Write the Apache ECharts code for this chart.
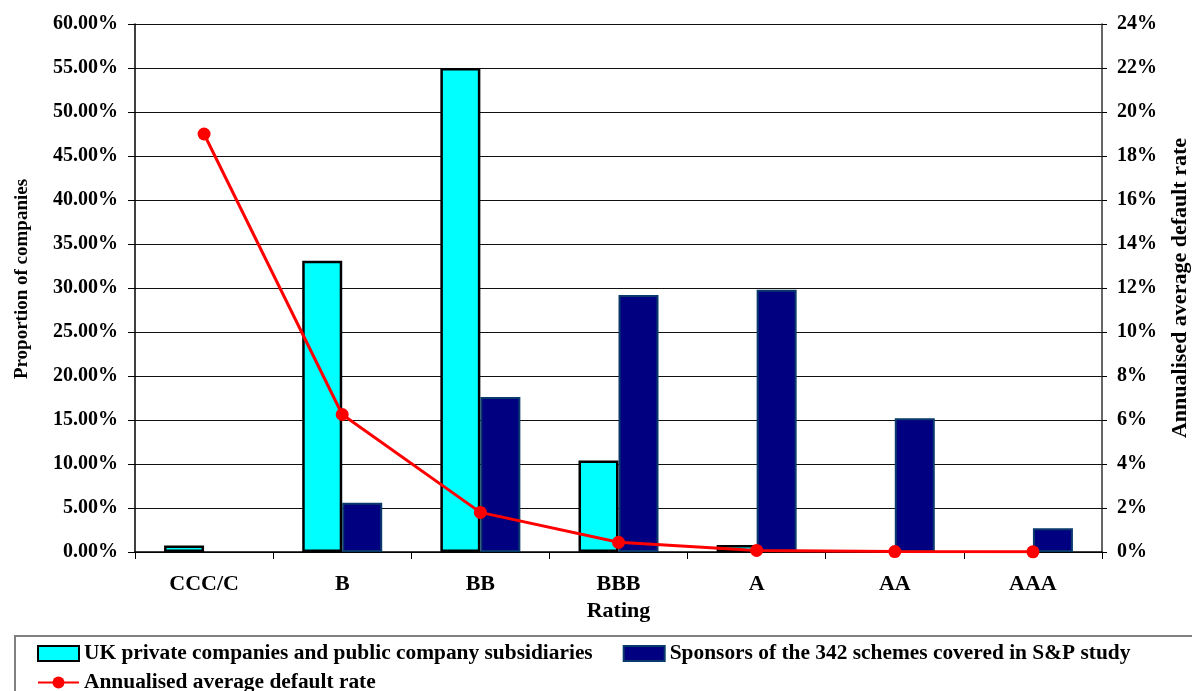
<!DOCTYPE html>
<html>
<head>
<meta charset="utf-8">
<script src="https://cdn.jsdelivr.net/npm/echarts@6/dist/echarts.min.js"></script>
<style>
  html, body { margin: 0; padding: 0; background: #fff; overflow: hidden; }
  #chart { width: 1192px; height: 691px; }
</style>
</head>
<body>
<div id="chart"></div>
<script>
// Credit rating buckets
const ratings = ['CCC/C', 'B', 'BB', 'BBB', 'A', 'AA', 'AAA'];

// Proportion of companies in each rating bucket (%)
const ukPrivate = [0.75, 33.1, 55.0, 10.4, 0.8, '-', '-'];
const sponsors = ['-', 5.6, 17.6, 29.2, 29.8, 15.2, 2.7];

// Annualised average default rate (%)
const defaultRate = [19.0, 6.25, 1.8, 0.44, 0.07, 0.02, 0.01];

const seriesNames = [
  'UK private companies and public company subsidiaries',
  'Sponsors of the 342 schemes covered in S&P study',
  'Annualised average default rate'
];

const FONT = '"Liberation Serif", "Times New Roman", serif';

const chart = echarts.init(document.getElementById('chart'), null, { renderer: 'canvas', width: 1192, height: 691 });

chart.setOption({
  animation: false,
  backgroundColor: '#ffffff',
  textStyle: { fontFamily: FONT, fontWeight: 'bold', color: '#000' },
  grid: { left: 135, right: 90, top: 24, bottom: 139, containLabel: false, outerBoundsMode: 'none' },
  graphic: [{
    type: 'rect',
    shape: { x: 15, y: 636, width: 1200, height: 90 },
    style: { fill: 'none', stroke: '#808080', lineWidth: 2 },
    silent: true
  }],
  legend: [{
    left: 32, top: 638,
    itemWidth: 41, itemHeight: 15, itemGap: 30,
    textStyle: { fontFamily: FONT, fontWeight: 'bold', fontSize: 21.4, color: '#000' },
    data: [
      { name: seriesNames[0], icon: 'rect' },
      { name: seriesNames[1], icon: 'rect' }
    ]
  }, {
    left: 32, top: 667,
    itemWidth: 41, itemHeight: 15,
    textStyle: { fontFamily: FONT, fontWeight: 'bold', fontSize: 21.4, color: '#000' },
    data: [{ name: seriesNames[2] }]
  }],
  xAxis: {
    type: 'category',
    data: ratings,
    name: 'Rating',
    nameLocation: 'middle',
    nameGap: 48,
    nameTextStyle: { fontFamily: FONT, fontWeight: 'bold', fontSize: 22, color: '#000' },
    axisLine: { lineStyle: { color: '#000', width: 1.5 } },
    axisTick: { show: true, length: 7, lineStyle: { color: '#000' } },
    axisLabel: { margin: 21, fontFamily: FONT, fontWeight: 'bold', fontSize: 22, color: '#000' }
  },
  yAxis: [{
    type: 'value',
    min: 0, max: 60, interval: 5,
    name: 'Proportion of companies',
    nameLocation: 'middle',
    nameGap: 103,
    nameRotate: 90,
    nameTextStyle: { fontFamily: FONT, fontWeight: 'bold', fontSize: 19, color: '#000', padding: [0, 0, 0, 18] },
    axisLine: { show: true, lineStyle: { color: '#000', width: 1.5 } },
    axisTick: { show: true, length: 7, lineStyle: { color: '#000' } },
    axisLabel: {
      margin: 17, fontFamily: FONT, fontWeight: 'bold', fontSize: 20, color: '#000',
      formatter: v => v.toFixed(2) + '%'
    },
    splitLine: { show: true, lineStyle: { color: '#111', width: 1.2 } }
  }, {
    type: 'value',
    position: 'right',
    min: 0, max: 24, interval: 2,
    name: 'Annualised average default rate',
    nameLocation: 'middle',
    nameGap: 67,
    nameRotate: 90,
    nameTextStyle: { fontFamily: FONT, fontWeight: 'bold', fontSize: 22, color: '#000' },
    axisLine: { show: true, lineStyle: { color: '#333', width: 1.5 } },
    axisTick: { show: true, length: 5, lineStyle: { color: '#000' } },
    axisLabel: {
      margin: 15, fontFamily: FONT, fontWeight: 'bold', fontSize: 20, color: '#000',
      formatter: v => v + '%'
    },
    splitLine: { show: false }
  }],
  series: [{
    name: seriesNames[0],
    type: 'bar',
    data: ukPrivate,
    barWidth: 40,
    barGap: '0%',
    itemStyle: { color: '#00FFFF', borderColor: '#000000', borderWidth: 2.5 },
    z: 2
  }, {
    name: seriesNames[1],
    type: 'bar',
    data: sponsors,
    barWidth: 40,
    barGap: '0%',
    itemStyle: { color: '#000080', borderColor: '#0a3a6b', borderWidth: 2 },
    z: 2
  }, {
    name: seriesNames[2],
    type: 'line',
    yAxisIndex: 1,
    data: defaultRate,
    symbol: 'circle',
    symbolSize: 13,
    lineStyle: { color: '#FF0000', width: 3 },
    itemStyle: { color: '#FF0000' },
    z: 5
  }]
});
</script>
</body>
</html>
